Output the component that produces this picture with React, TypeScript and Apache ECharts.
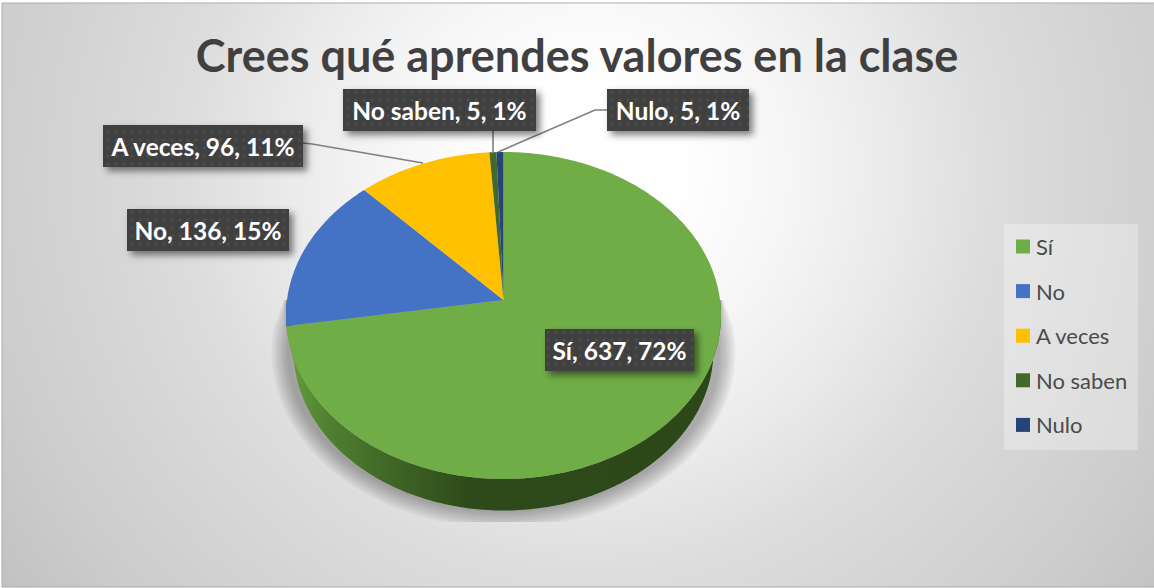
import React, { useEffect, useRef } from "react";
import * as echarts from "echarts";

const categories = ["Sí", "No", "A veces", "No saben", "Nulo"];
const values = [637, 136, 96, 5, 5];
const titleText = "Crees qué aprendes valores en la clase";

const topColors = ["#70AD47", "#4472C4", "#FFC000", "#43682B", "#264478"];
const sideColors = ["#2E4A1A", "#294476", "#997300", "#283F1A", "#172948"];

const labelBoxes = [
  { x: 545, y: 329, w: 149, h: 42, line: null },
  { x: 127, y: 209, w: 162, h: 42, line: null },
  { x: 103, y: 125, w: 200, h: 42, line: [[303, 143], [312, 144], [423, 163]] },
  { x: 343, y: 89, w: 193, h: 42, line: [[493, 131], [493, 152]] },
  { x: 607, y: 89, w: 142, h: 42, line: [[607, 110], [595, 110], [498, 152]] },
];

const total = values.reduce((a, b) => a + b, 0);
const K = 0.0948;
const top3d = { cx: 503.5, y0: 300, a: 216.5, b: 162 };
const bottom3d = { cx: 503.5, y0: 335.3, a: 209, b: 158.6 };

function project(g: typeof top3d, deg: number): number[] {
  const t = (deg * Math.PI) / 180;
  const u = Math.sin(t);
  const v = -Math.cos(t);
  const w = 1 / (1 - K * v);
  return [g.cx + g.a * u * w, g.y0 + g.b * v * w];
}

function arcPoints(g: typeof top3d, from: number, to: number): number[][] {
  const pts: number[][] = [];
  const n = Math.max(2, Math.ceil(Math.abs(to - from)));
  for (let i = 0; i <= n; i++) pts.push(project(g, from + ((to - from) * i) / n));
  return pts;
}

function sliceAngles(i: number): [number, number] {
  let s = 0;
  for (let j = 0; j < i; j++) s += values[j];
  return [(s / total) * 360, ((s + values[i]) / total) * 360];
}

const sideFill = (i: number) =>
  i === 0
    ? {
        type: "linear",
        global: true,
        x: 286,
        y: 0,
        x2: 721,
        y2: 0,
        colorStops: [
          { offset: 0, color: "#66A03F" },
          { offset: 0.1, color: "#4F7F30" },
          { offset: 0.25, color: "#3F6525" },
          { offset: 0.42, color: "#2E4A1A" },
          { offset: 1, color: "#2C4718" },
        ],
      }
    : sideColors[i];

const makeRenderItem = (i: number) => () => {
  const [a0, a1] = sliceAngles(i);
  const children: any[] = [];
  const s0 = Math.max(a0, 90);
  const s1 = Math.min(a1, 270);
  if (s1 > s0) {
    children.push({
      type: "polygon",
      shape: {
        points: [...arcPoints(top3d, s0, s1), ...arcPoints(bottom3d, s1, s0)],
      },
      style: { fill: sideFill(i) },
    });
  }
  children.push({
    type: "polygon",
    z2: 5,
    shape: { points: [[top3d.cx, top3d.y0], ...arcPoints(top3d, a0, a1)] },
    style: { fill: topColors[i] },
  });
  return { type: "group", children };
};

const dotSvg =
  "data:image/svg+xml," +
  encodeURIComponent(
    '<svg xmlns="http://www.w3.org/2000/svg" width="8" height="8"><rect width="8" height="8" fill="#3f3f3f"/><circle cx="4" cy="4" r="1.6" fill="#4e4e4e"/></svg>'
  );

function shadowLayer(grow: number, opacity: number) {
  const pts: number[][] = [];
  const cx = 503.5;
  const cy = 352;
  const rx = 216 + grow;
  const ry = 160 + grow;
  pts.push([cx + 217 + grow * 0.15, 300]);
  for (let d = -8; d <= 188; d += 2) {
    const t = (d * Math.PI) / 180;
    const y = Math.min(cy + ry * Math.sin(t), 522);
    pts.push([cx + rx * Math.cos(t), y]);
  }
  pts.push([cx - 217 - grow * 0.15, 300]);
  return {
    type: "polygon",
    z: 1,
    shape: { points: pts },
    style: { fill: `rgba(0,0,0,${opacity})` },
    silent: true,
  };
}

export default function App() {
  const ref = useRef<HTMLDivElement>(null);
  useEffect(() => {
    document.body.style.margin = "0";
    document.body.style.overflow = "hidden";
    const chart = echarts.init(ref.current!, undefined, { renderer: "svg" });

    const labelGraphics: any[] = [];
    categories.forEach((name, i) => {
      const box = labelBoxes[i];
      const pct = Math.round((values[i] / total) * 100);
      if (box.line) {
        labelGraphics.push({
          type: "polyline",
          z: 20,
          shape: { points: box.line },
          style: { stroke: "#7F7F7F", lineWidth: 1.6, fill: "none" },
        });
      }
      labelGraphics.push({
        type: "rect",
        z: 21,
        shape: { x: box.x, y: box.y, width: box.w, height: box.h },
        style: {
          fill: { image: dotSvg, repeat: "repeat", imageWidth: 8, imageHeight: 8 },
          shadowBlur: 7,
          shadowOffsetX: 4,
          shadowOffsetY: 4,
          shadowColor: "rgba(0,0,0,0.5)",
        },
      });
      labelGraphics.push({
        type: "text",
        z: 22,
        x: box.x + box.w / 2,
        y: box.y + box.h / 2,
        style: {
          text: `${name}, ${values[i]}, ${pct}%`,
          fill: "#FFFFFF",
          font: "bold 24.5px Lato",
          align: "center",
          verticalAlign: "middle",
        },
      });
    });

    const shadows = [];
    for (let i = 0; i < 8; i++) shadows.push(shadowLayer(16 - i * 2.2, 0.04));

    chart.setOption({
      animation: false,
      title: {
        text: titleText,
        left: 572,
        top: 27,
        textAlign: "center",
        textStyle: {
          fontFamily: "Lato",
          fontWeight: "bold",
          fontSize: 45,
          color: "#404040",
        },
      },
      legend: {
        orient: "vertical",
        left: 1016,
        top: 234,
        data: categories,
        icon: "rect",
        itemWidth: 14,
        itemHeight: 14,
        itemGap: 19.6,
        padding: 0,
        selectedMode: false,
        textStyle: {
          fontFamily: "Lato",
          fontSize: 22,
          color: "#4A4A4A",
          padding: [0, 0, 0, 1],
          lineHeight: 25,
        },
      },
      graphic: {
        elements: [
          {
            type: "rect",
            z: 0,
            shape: { x: 0, y: 0, width: 1154, height: 588 },
            style: { fill: "#FFFFFF" },
          },
          {
            type: "rect",
            z: 0,
            shape: { x: 2, y: 3, width: 1153, height: 584 },
            style: {
              fill: {
                type: "radial",
                global: true,
                x: 590,
                y: 170,
                r: 760,
                colorStops: [
                  { offset: 0, color: "#FFFFFF" },
                  { offset: 0.13, color: "#FEFEFE" },
                  { offset: 0.26, color: "#F6F6F6" },
                  { offset: 0.4, color: "#EAEAEA" },
                  { offset: 0.53, color: "#DDDDDD" },
                  { offset: 0.66, color: "#D5D5D5" },
                  { offset: 0.8, color: "#CDCDCD" },
                  { offset: 1, color: "#BEBEBE" },
                ],
              },
              stroke: "#ABABAB",
              lineWidth: 1,
            },
          },
          ...shadows,
          {
            type: "rect",
            z: 1,
            shape: { x: 1004, y: 224, width: 134, height: 226 },
            style: { fill: "rgba(255,255,255,0.3)" },
          },
          ...labelGraphics,
        ],
      },
      series: categories.map((name, i) => ({
        type: "custom",
        name,
        coordinateSystem: "none",
        itemStyle: { color: topColors[i] },
        data: [values[i]],
        renderItem: makeRenderItem(i),
      })),
    });
    return () => chart.dispose();
  }, []);
  return (
    <div
      ref={ref}
      style={{ position: "absolute", left: 0, top: 0, width: 1154, height: 588 }}
    />
  );
}
